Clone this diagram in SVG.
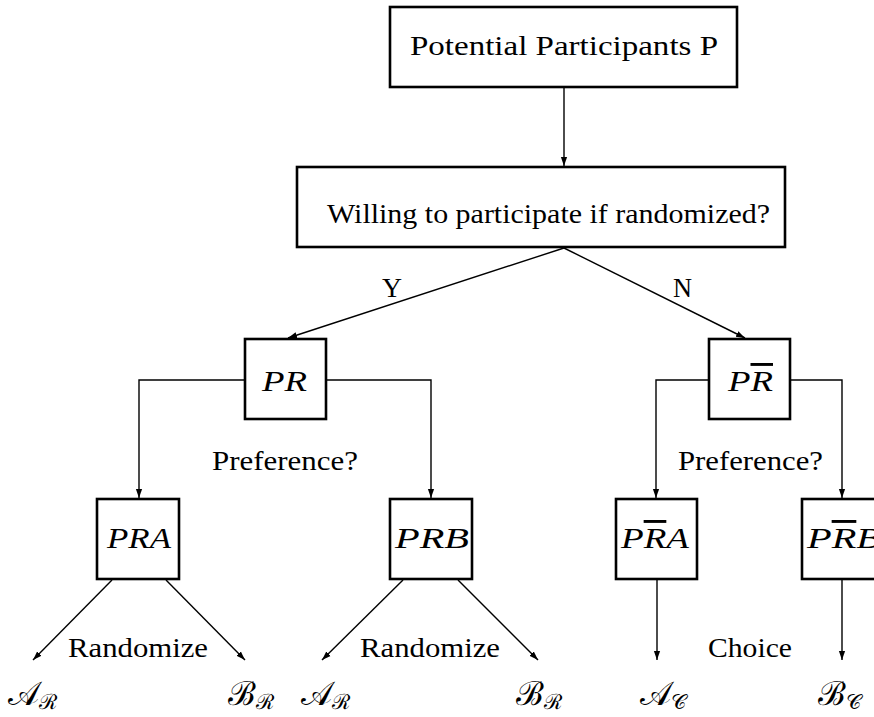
<svg xmlns="http://www.w3.org/2000/svg" width="874" height="717" viewBox="0 0 874 717">
<style>
.box{fill:#fff;stroke:#000;stroke-width:2.6}
.ln{fill:none;stroke:#000;stroke-width:1.4}
text{font-family:"Liberation Serif","Times New Roman","DejaVu Serif",serif;font-size:27px;fill:#000}
.m{font-style:italic;font-size:29px}
.s{font-family:"DejaVu Serif","Liberation Serif",serif;font-size:33px}
.sub{font-size:21px}
.ov{text-decoration:overline}
</style>
<defs>
<marker id="ah" markerUnits="userSpaceOnUse" markerWidth="10" markerHeight="8" refX="9" refY="4" orient="auto">
<path d="M0,0.9 L9,4 L0,7.1 Z" fill="#000"/>
</marker>
</defs>
<rect width="874" height="717" fill="#fff"/>
<g id="connectors">
<line class="ln" x1="564" y1="87" x2="564" y2="166" marker-end="url(#ah)"/>
<line class="ln" x1="564" y1="248" x2="288" y2="338" marker-end="url(#ah)"/>
<line class="ln" x1="564" y1="248" x2="745" y2="338" marker-end="url(#ah)"/>
<polyline class="ln" points="245,380 139,380 139,498" marker-end="url(#ah)"/>
<polyline class="ln" points="326,380 431,380 431,498" marker-end="url(#ah)"/>
<polyline class="ln" points="709,380 656,380 656,498" marker-end="url(#ah)"/>
<polyline class="ln" points="790,380 842,380 842,498" marker-end="url(#ah)"/>
<line class="ln" x1="112" y1="580" x2="33" y2="660" marker-end="url(#ah)"/>
<line class="ln" x1="166" y1="580" x2="245" y2="660" marker-end="url(#ah)"/>
<line class="ln" x1="403" y1="580" x2="322" y2="660" marker-end="url(#ah)"/>
<line class="ln" x1="458" y1="580" x2="538" y2="660" marker-end="url(#ah)"/>
<line class="ln" x1="657" y1="580" x2="657" y2="660" marker-end="url(#ah)"/>
<line class="ln" x1="842" y1="580" x2="842" y2="660" marker-end="url(#ah)"/>
<text x="382" y="297" textLength="20" lengthAdjust="spacingAndGlyphs">Y</text>
<text x="673" y="297" textLength="19" lengthAdjust="spacingAndGlyphs">N</text>
<text x="212" y="470" textLength="146" lengthAdjust="spacingAndGlyphs">Preference?</text>
<text x="678" y="470" textLength="145" lengthAdjust="spacingAndGlyphs">Preference?</text>
<text x="68" y="657" textLength="140" lengthAdjust="spacingAndGlyphs">Randomize</text>
<text x="360" y="657" textLength="140" lengthAdjust="spacingAndGlyphs">Randomize</text>
<text x="708" y="657" textLength="84" lengthAdjust="spacingAndGlyphs">Choice</text>
</g>
<g id="n-potential">
<rect class="box" x="390" y="7" width="347" height="80"/>
<text x="410" y="55" textLength="308" lengthAdjust="spacingAndGlyphs">Potential Participants P</text>
</g>
<g id="n-willing">
<rect class="box" x="297" y="167" width="488" height="80"/>
<text x="327" y="223" textLength="443" lengthAdjust="spacingAndGlyphs">Willing to participate if randomized?</text>
</g>
<g id="n-pr">
<rect class="box" x="245" y="339" width="81" height="80"/>
<text class="m" x="262" y="391" textLength="45" lengthAdjust="spacingAndGlyphs">PR</text>
</g>
<g id="n-prbar">
<rect class="box" x="709" y="339" width="81" height="80"/>
<text class="m" x="728" y="391" textLength="45" lengthAdjust="spacingAndGlyphs">P<tspan class="ov">R</tspan></text>
</g>
<g id="n-pra">
<rect class="box" x="97" y="499" width="82" height="80"/>
<text class="m" x="107" y="548" textLength="64" lengthAdjust="spacingAndGlyphs">PRA</text>
</g>
<g id="n-prb">
<rect class="box" x="390" y="499" width="82" height="80"/>
<text class="m" x="395" y="548" textLength="74" lengthAdjust="spacingAndGlyphs">PRB</text>
</g>
<g id="n-prbara">
<rect class="box" x="616" y="499" width="81" height="80"/>
<text class="m" x="621" y="548" textLength="68" lengthAdjust="spacingAndGlyphs">P<tspan class="ov">R</tspan>A</text>
</g>
<g id="n-prbarb">
<rect class="box" x="802" y="499" width="82" height="80"/>
<text class="m" x="807" y="548" textLength="74" lengthAdjust="spacingAndGlyphs">P<tspan class="ov">R</tspan>B</text>
</g>
<g id="outcomes">
<text class="s" x="8" y="705">𝒜<tspan class="sub" dy="4">ℛ</tspan></text>
<text class="s" x="228" y="705">ℬ<tspan class="sub" dy="4">ℛ</tspan></text>
<text class="s" x="301" y="705">𝒜<tspan class="sub" dy="4">ℛ</tspan></text>
<text class="s" x="516" y="705">ℬ<tspan class="sub" dy="4">ℛ</tspan></text>
<text class="s" x="640" y="705">𝒜<tspan class="sub" dy="4">𝒞</tspan></text>
<text class="s" x="818" y="705">ℬ<tspan class="sub" dy="4">𝒞</tspan></text>
</g>
</svg>
